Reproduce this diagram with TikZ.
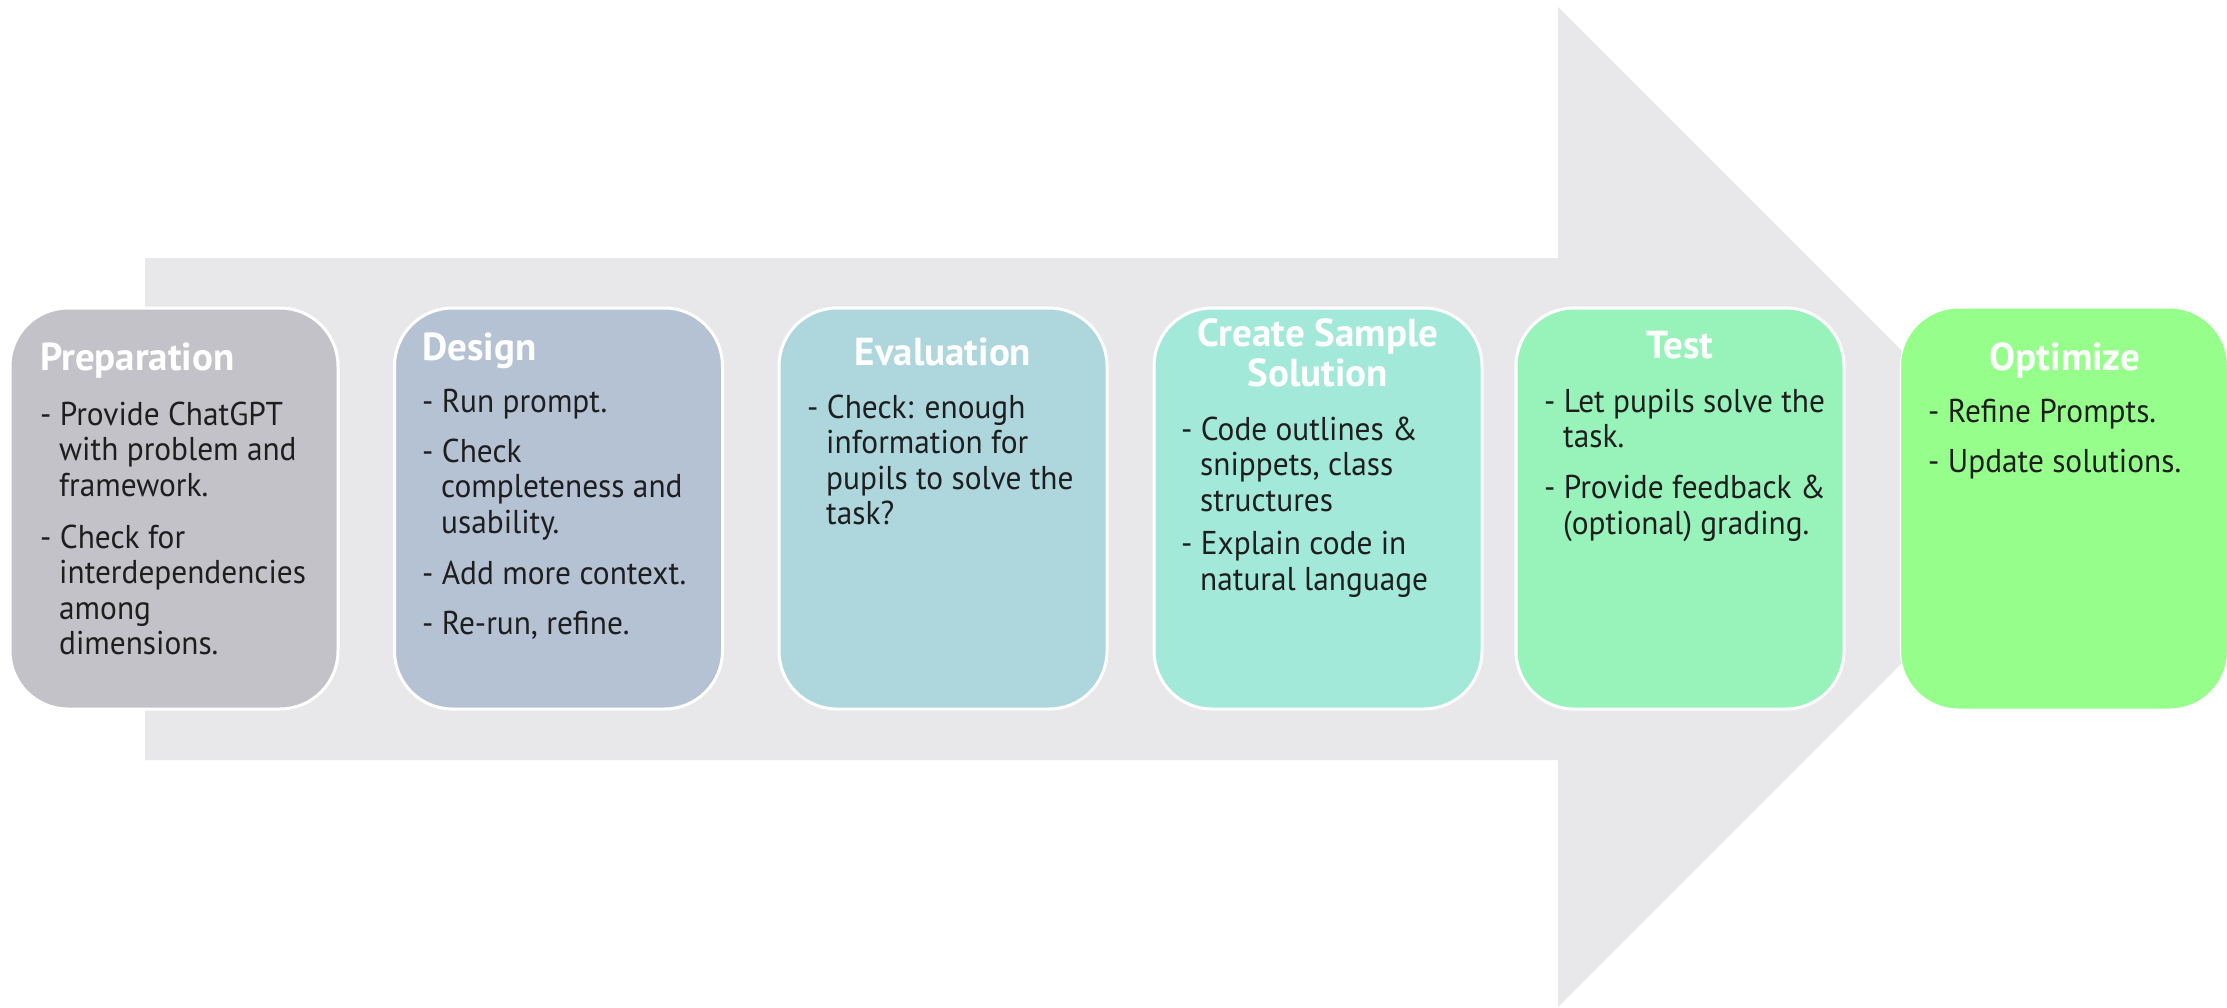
\documentclass[tikz,border=0pt]{standalone}
\usepackage{fontspec}
\setmainfont{PT Sans}
\newfontfamily\bodyfont{PT Sans}[FakeStretch=0.95]
\definecolor{arrowgray}{HTML}{E8E8EA}
\definecolor{prepc}{HTML}{C3C2C9}
\definecolor{designc}{HTML}{B5C2D4}
\definecolor{evalc}{HTML}{ADD6DD}
\definecolor{createc}{HTML}{A2E9DA}
\definecolor{testc}{HTML}{98F3BB}
\definecolor{optc}{HTML}{96FF8B}
\definecolor{bodytext}{HTML}{1E1E1E}
% hanging indent for continuation lines of a bullet
\newcommand\contind{\hspace*{19pt}}
\tikzset{
  stage/.style={rectangle, rounded corners=58pt, draw=white, line width=3pt,
    minimum width=328pt, minimum height=401pt, inner sep=0pt},
  title/.style={text=white, inner sep=0pt, font=\bfseries\fontsize{39}{40}\selectfont},
  body/.style={text=bodytext, inner sep=0pt, anchor=base west,
    font=\bodyfont\fontsize{33}{35.5}\selectfont},
}
\begin{document}
\begin{tikzpicture}[x=1pt,y=-1pt]
\useasboundingbox (0,0) rectangle (2227,1007);

% large background arrow
\fill[arrowgray] (145,258) -- (1558,258) -- (1558,7) -- (2058,507)
  -- (1558,1007) -- (1558,760) -- (145,760) -- cycle;

% stage boxes
\node[stage, fill=prepc]   (prep)   at (174,508.5)  {};
\node[stage, fill=designc] (design) at (558.5,508.5) {};
\node[stage, fill=evalc]   (eval)   at (943,508.5)  {};
\node[stage, fill=createc] (create) at (1318,508.5) {};
\node[stage, fill=testc]   (test)   at (1680,508.5) {};
\node[stage, fill=optc, line width=1pt, minimum width=327pt] (opt) at (2064,508.5) {};

% Preparation
\node[title, anchor=base west] (preptitle) at (40,370) {Preparation};
\node[body] (prepbody) at (40,425) {\begin{tabular}[t]{@{}l@{}}
- Provide ChatGPT\\ \contind with problem and\\ \contind framework.\\[16.5pt]
- Check for\\ \contind interdependencies\\ \contind among\\ \contind dimensions.
\end{tabular}};

% Design
\node[title, anchor=base west] (designtitle) at (422,360) {Design};
\node[body] (designbody) at (422,412) {\begin{tabular}[t]{@{}l@{}}
- Run prompt.\\[14.5pt]
- Check\\ \contind completeness and\\ \contind usability.\\[16pt]
- Add more context.\\[14.5pt]
- Re-run, refine.
\end{tabular}};

% Evaluation
\node[title, anchor=base] (evaltitle) at (943,365) {Evaluation};
\node[body] (evalbody) at (807,418) {\begin{tabular}[t]{@{}l@{}}
- Check: enough\\ \contind information for\\ \contind pupils to solve the\\ \contind task?
\end{tabular}};

% Create Sample Solution
\node[title, anchor=base] (createtitle) at (1318,346) {\begin{tabular}[t]{@{}c@{}}
Create Sample\\ Solution\end{tabular}};
\node[body] (createbody) at (1181,440) {\begin{tabular}[t]{@{}l@{}}
- Code outlines \&\\ \contind snippets, class\\ \contind structures\\[8pt]
- Explain code in\\ \contind natural language
\end{tabular}};

% Test
\node[title, anchor=base] (testtitle) at (1680,358) {Test};
\node[body] (testbody) at (1544,412) {\begin{tabular}[t]{@{}l@{}}
- Let pupils solve the\\ \contind task.\\[15.5pt]
- Provide feedback \&\\ \contind (optional) grading.
\end{tabular}};

% Optimize
\node[title, anchor=base] (opttitle) at (2065,370) {Optimize};
\node[body] (optbody) at (1928,422) {\begin{tabular}[t]{@{}l@{}}
- Refine Prompts.\\[14.5pt]
- Update solutions.
\end{tabular}};
\end{tikzpicture}
\end{document}
